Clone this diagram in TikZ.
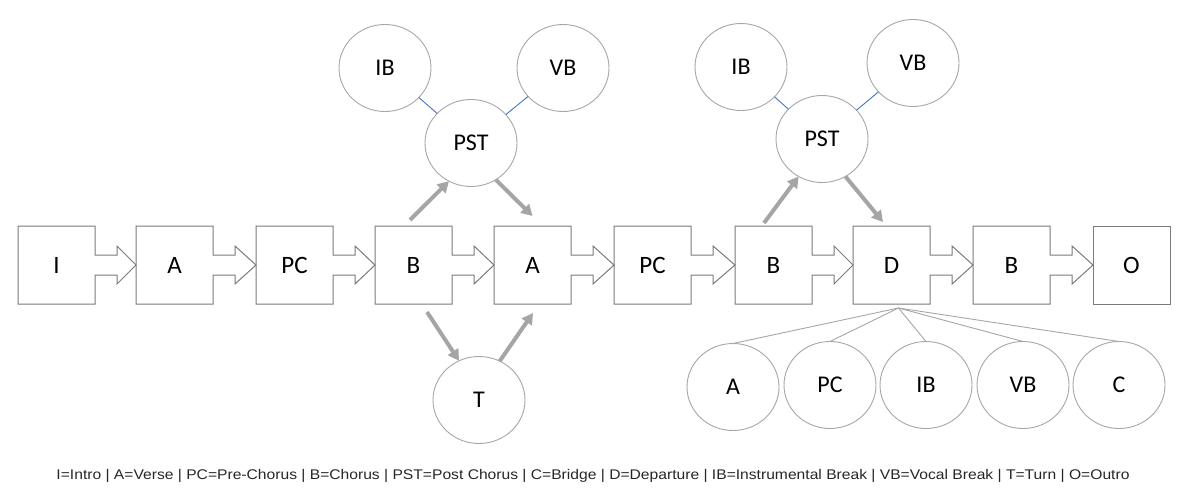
\documentclass[tikz,border=0pt]{standalone}
\usepackage{fontspec}
\usepackage{graphicx}
\setmainfont{Carlito}
\newfontfamily\legendfont{Liberation Sans}
\usetikzlibrary{calc,shapes.geometric,arrows.meta}
\definecolor{boxgray}{HTML}{7A7A7A}
\definecolor{circgray}{HTML}{A6A6A6}
\definecolor{arrgray}{HTML}{A5A5A5}
\definecolor{linkblue}{HTML}{4472C4}
\tikzset{
  stagebox/.style={rectangle,draw=none,minimum width=77pt,minimum height=78pt,inner sep=0pt,outer sep=0pt,font=\fontsize{25}{25}\selectfont},
  boxline/.style={draw=boxgray,line width=1pt,line join=miter},
  partcirc/.style={ellipse,draw=circgray,line width=0.9pt,minimum width=92pt,minimum height=87pt,inner sep=0pt,outer sep=0pt,font=\fontsize{24}{24}\selectfont},
  garrow/.style={draw=arrgray,line width=4pt,-{Triangle[length=11pt,width=12pt]}},
  bluelink/.style={draw=linkblue,line width=0.9pt},
  greylink/.style={draw=circgray,line width=0.9pt},
}
\newcommand\arrowbox[2]{%
  \draw[boxline] ($(#1.east)+(0,-10)$) -- (#1.north east) -- (#1.north west) -- (#1.south west) -- (#1.south east) -- ($(#1.east)+(0,10)$) -- ++(22,0) -- ++(0,9) -- (#2.west) -- ($(#1.east)+(22,-19)$) -- ++(0,9) -- cycle;}
\begin{document}
\begin{tikzpicture}[x=1pt,y=-1pt]
\useasboundingbox (0,0) rectangle (1190,498);
% main row
\node[stagebox] (b1) at (56.5,265) {I};
\node[stagebox] (b2) at (174.5,265) {A};
\node[stagebox] (b3) at (294.5,265) {PC};
\node[stagebox] (b4) at (413.5,265) {B};
\node[stagebox] (b5) at (532.5,265) {A};
\node[stagebox] (b6) at (652.5,265) {PC};
\node[stagebox] (b7) at (773.5,265) {B};
\node[stagebox] (b8) at (891.5,265) {D};
\node[stagebox] (b9) at (1011.5,265) {B};
\node[stagebox] (b10) at (1131.5,265) {O};
\arrowbox{b1}{b2}
\arrowbox{b2}{b3}
\arrowbox{b3}{b4}
\arrowbox{b4}{b5}
\arrowbox{b5}{b6}
\arrowbox{b6}{b7}
\arrowbox{b7}{b8}
\arrowbox{b8}{b9}
\arrowbox{b9}{b10}
\draw[boxline] (b10.north west) -- (b10.north east) -- (b10.south east) -- (b10.south west) -- cycle;
% left post chorus group
\node[partcirc] (ibl) at (385,68) {IB};
\node[partcirc] (vbl) at (563,68) {VB};
\node[partcirc] (pstl) at (471,143) {PST};
\draw[bluelink] (ibl) -- (pstl);
\draw[bluelink] (vbl) -- (pstl);
\draw[garrow] ($(b4.north)+(-3.5,-6)$) -- (pstl.240);
\draw[garrow] (pstl.304) -- ($(b5.north)+(0,-10)$);
% turn
\node[partcirc] (turn) at (479,400) {T};
\draw[garrow] ($(b4.south)+(13.5,8)$) -- (turn.117);
\draw[garrow] (turn.62) -- ($(b5.south)+(0.5,9)$);
% right post chorus group
\node[partcirc] (ibr) at (741,67) {IB};
\node[partcirc] (vbr) at (913,63) {VB};
\node[partcirc] (pstr) at (822,139) {PST};
\draw[bluelink] (ibr) -- (pstr);
\draw[bluelink] (vbr) -- (pstr);
\draw[garrow] ($(b7.north)+(-9.5,-3)$) -- (pstr.238);
\draw[garrow] (pstr.302) -- ($(b8.north)+(-8.5,-4)$);
% departure options
\coordinate (dfan) at ($(b8.south)+(7,4)$);
\node[partcirc] (da) at (733,387) {A};
\node[partcirc] (dpc) at (830,385) {PC};
\node[partcirc] (dib) at (926,385) {IB};
\node[partcirc] (dvb) at (1023,385) {VB};
\node[partcirc] (dc) at (1119,385) {C};
\foreach \n in {da,dpc,dib,dvb,dc} \draw[greylink] (dfan) -- (\n.north);
% legend
\node[inner sep=0pt,text=black!85] (legend) at (593,476) {\legendfont\fontsize{14}{14}\selectfont\resizebox{1073pt}{\height}{I=Intro | A=Verse | PC=Pre-Chorus | B=Chorus | PST=Post Chorus | C=Bridge | D=Departure | IB=Instrumental Break | VB=Vocal Break | T=Turn | O=Outro}};
\end{tikzpicture}
\end{document}
